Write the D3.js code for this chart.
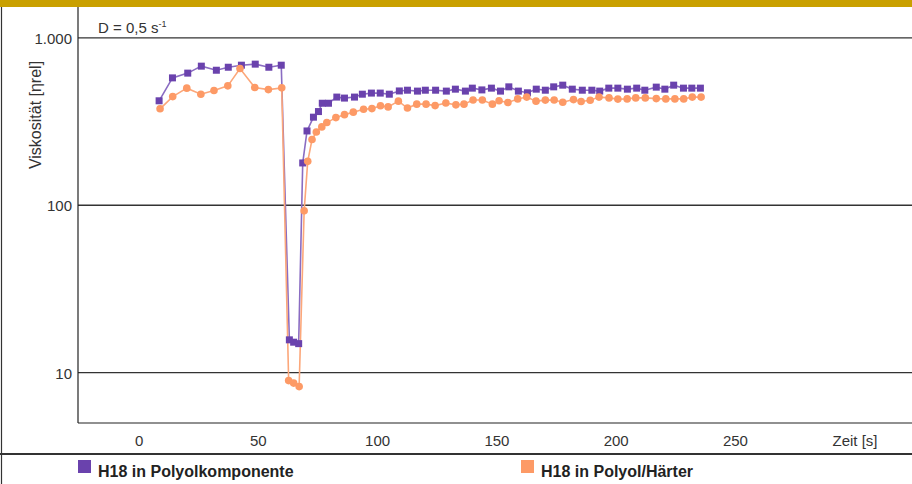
<!DOCTYPE html>
<html>
<head>
<meta charset="utf-8">
<script src="https://cdn.jsdelivr.net/npm/d3@7/dist/d3.min.js"></script>
<style>
	body { margin: 0; background: #fff; }
	svg { display: block; font-family: "Liberation Sans", Arial, sans-serif; }
</style>
</head>
<body>
<div id="chart"></div>
<script>
// time [s] and viscosity [eta rel]
var timePoly = [ 8.4, 14.0, 20.4, 26.1, 32.4, 37.4, 42.9, 48.7, 54.4, 59.6,
	63.0, 64.8, 66.9,
	68.6, 70.4, 73.1, 75.2, 76.8, 79.4, 82.9, 86.1, 90.3, 93.6, 97.4, 101.1, 104.9, 109.1, 112.5, 116.7,
	120.0, 124.3, 128.8, 132.6, 136.8, 139.7, 143.7, 147.7, 151.5, 155.0, 159.0, 162.8, 166.5, 170.3,
	173.8, 177.6, 181.6, 185.8, 189.8, 193.1, 196.9, 200.7, 204.7, 208.6, 212.0, 216.8, 220.4, 224.1,
	228.2, 231.7, 235.3 ];
var viscPoly = [ 421, 577, 616, 678, 641, 668, 687, 697, 668, 687,
	15.7, 15.2, 14.9,
	179, 278, 336, 363, 407, 407, 443, 437, 443, 461, 468, 468, 461, 482, 487, 481,
	487, 487, 481, 494, 481, 501, 489, 501, 481, 510, 481, 470, 494, 487,
	510, 522, 494, 487, 487, 481, 501, 501, 494, 501, 487, 508, 494, 522,
	501, 501, 501 ];

var timeHaerter = [ 8.8, 14.1, 20.0, 25.9, 31.4, 37.2, 42.3, 48.5, 54.2, 59.8,
	62.7, 64.8, 67.1,
	69.2, 70.7, 72.5, 74.3, 76.6, 78.7, 82.5, 86.1, 89.8, 94.1, 97.6, 101.2, 104.4, 108.7, 112.5, 116.4,
	120.3, 124.1, 128.6, 132.8, 136.2, 140.0, 143.9, 148.1, 150.9, 154.6, 158.7, 162.5, 166.4, 170.3,
	174.0, 177.6, 182.1, 185.3, 189.1, 192.8, 197.0, 200.7, 204.6, 208.2, 212.2, 216.8, 220.8, 224.6,
	228.3, 231.9, 235.6 ];
var viscHaerter = [ 377, 446, 501, 461, 485, 517, 656, 505, 491, 503,
	8.96, 8.66, 8.25,
	92.7, 183, 247, 274, 294, 312, 334, 348, 360, 375, 378, 393, 387, 419, 381, 402,
	402, 394, 408, 398, 402, 426, 426, 402, 421, 411, 432, 443, 419, 425,
	426, 413, 428, 417, 424, 443, 438, 431, 432, 438, 438, 434, 432, 432,
	432, 443, 443 ];

var xTicks = [ 0, 50, 100, 150, 200, 250 ];
var yTicks = [ 10, 100, 1000 ];
var seriesNames = [ "H18 in Polyolkomponente", "H18 in Polyol/Härter" ];

var width = 912, height = 484;
var purple = "#6a42ad", orange = "#fd9a66";

var svg = d3.select( "#chart" ).append( "svg" )
	.attr( "width", width )
	.attr( "height", height );

// scales
var x = d3.scaleLinear().domain( [ -25.6, 324 ] ).range( [ 78, 912 ] );
var y = d3.scaleLog().domain( [ 5, 1530 ] ).range( [ 423, 7 ] );

// gold banner on top
svg.append( "rect" )
	.attr( "x", 0 ).attr( "y", 0 )
	.attr( "width", width ).attr( "height", 7 )
	.attr( "fill", "#c9a000" );

// frame
svg.append( "line" )
	.attr( "x1", 1.5 ).attr( "x2", 1.5 )
	.attr( "y1", 7 ).attr( "y2", height )
	.attr( "stroke", "#333" ).attr( "stroke-width", 1.2 );
svg.append( "line" )
	.attr( "x1", 0 ).attr( "x2", width )
	.attr( "y1", 454 ).attr( "y2", 454 )
	.attr( "stroke", "#333" ).attr( "stroke-width", 2 );

// horizontal grid lines
svg.append( "g" ).selectAll( "line" )
	.data( yTicks )
	.join( "line" )
	.attr( "x1", x.range()[ 0 ] ).attr( "x2", width )
	.attr( "y1", function ( d ) { return y( d ); } )
	.attr( "y2", function ( d ) { return y( d ); } )
	.attr( "stroke", "#333" ).attr( "stroke-width", 1.3 );

// axes lines
svg.append( "line" )
	.attr( "x1", 78 ).attr( "x2", 78 )
	.attr( "y1", 7 ).attr( "y2", 423 )
	.attr( "stroke", "#222" ).attr( "stroke-width", 1.2 );
svg.append( "line" )
	.attr( "x1", 78 ).attr( "x2", width )
	.attr( "y1", 423 ).attr( "y2", 423 )
	.attr( "stroke", "#222" ).attr( "stroke-width", 1.2 );

// y tick labels
var fmtY = function ( d ) { return d >= 1000 ? d3.format( "," )( d ).replace( ",", "." ) : d; };
svg.append( "g" ).selectAll( "text" )
	.data( yTicks )
	.join( "text" )
	.attr( "x", 72 )
	.attr( "y", function ( d ) { return y( d ) + 6; } )
	.attr( "text-anchor", "end" )
	.attr( "font-size", 15 )
	.attr( "fill", "#333" )
	.text( fmtY );

// x tick labels
svg.append( "g" ).selectAll( "text" )
	.data( xTicks )
	.join( "text" )
	.attr( "x", function ( d ) { return x( d ); } )
	.attr( "y", 446 )
	.attr( "text-anchor", "middle" )
	.attr( "font-size", 15 )
	.attr( "fill", "#333" )
	.text( function ( d ) { return d; } );

svg.append( "text" )
	.attr( "x", 855 ).attr( "y", 446 )
	.attr( "text-anchor", "middle" )
	.attr( "font-size", 15 )
	.attr( "fill", "#333" )
	.text( "Zeit [s]" );

// y axis title
svg.append( "text" )
	.attr( "transform", "translate(41,115) rotate(-90)" )
	.attr( "text-anchor", "middle" )
	.attr( "font-size", 16 )
	.attr( "fill", "#333" )
	.text( "Viskosität [ηrel]" );

// shear rate note
var note = svg.append( "text" )
	.attr( "x", 98 ).attr( "y", 33 )
	.attr( "font-size", 15 )
	.attr( "fill", "#333" );
note.append( "tspan" ).text( "D = 0,5 s" );
note.append( "tspan" ).attr( "dy", -6 ).attr( "font-size", 9 ).text( "-1" );

// series
var line = d3.line()
	.x( function ( d ) { return x( d[ 0 ] ); } )
	.y( function ( d ) { return y( d[ 1 ] ); } );

var polyData = d3.zip( timePoly, viscPoly ),
	haerterData = d3.zip( timeHaerter, viscHaerter );

svg.append( "path" )
	.datum( polyData )
	.attr( "d", line )
	.attr( "fill", "none" )
	.attr( "stroke", "#8a6cc2" )
	.attr( "stroke-width", 1.6 );

svg.append( "path" )
	.datum( haerterData )
	.attr( "d", line )
	.attr( "fill", "none" )
	.attr( "stroke", "#fca77a" )
	.attr( "stroke-width", 1.6 );

svg.append( "g" ).selectAll( "rect" )
	.data( polyData )
	.join( "rect" )
	.attr( "x", function ( d ) { return x( d[ 0 ] ) - 3.5; } )
	.attr( "y", function ( d ) { return y( d[ 1 ] ) - 3.5; } )
	.attr( "width", 7 ).attr( "height", 7 )
	.attr( "fill", purple );

svg.append( "g" ).selectAll( "circle" )
	.data( haerterData )
	.join( "circle" )
	.attr( "cx", function ( d ) { return x( d[ 0 ] ); } )
	.attr( "cy", function ( d ) { return y( d[ 1 ] ); } )
	.attr( "r", 3.8 )
	.attr( "fill", orange );

// legend
var legend = svg.append( "g" ).selectAll( "g" )
	.data( seriesNames )
	.join( "g" )
	.attr( "transform", function ( d, i ) { return "translate(" + ( i === 0 ? 78 : 521 ) + ",460)"; } );

legend.append( "rect" )
	.attr( "width", 13 ).attr( "height", 13 )
	.attr( "fill", function ( d, i ) { return i === 0 ? purple : orange; } );

legend.append( "text" )
	.attr( "x", 20 ).attr( "y", 17 )
	.attr( "font-size", 16 )
	.attr( "font-weight", "bold" )
	.attr( "fill", "#222" )
	.text( function ( d ) { return d; } );
</script>
</body>
</html>
